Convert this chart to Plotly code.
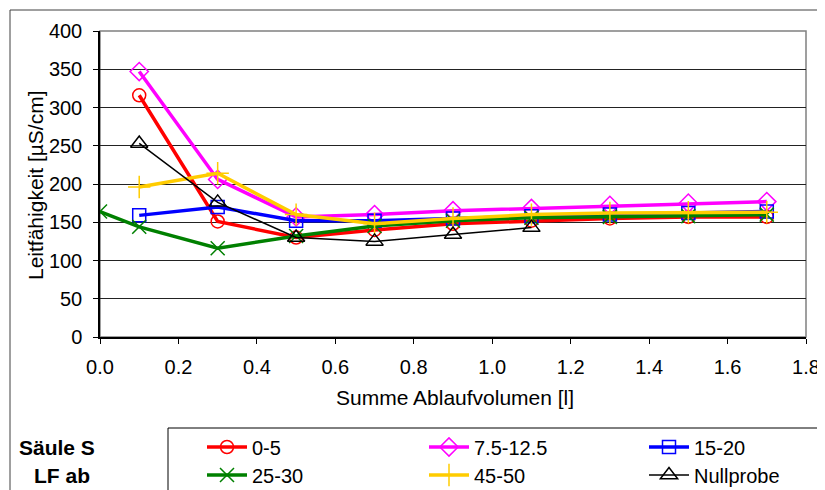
import plotly.graph_objects as go

x_vals = [0.1, 0.3, 0.5, 0.7, 0.9, 1.1, 1.3, 1.5, 1.7]
x_green = [0.0, 0.1, 0.3, 0.5, 0.7, 0.9, 1.1, 1.3, 1.5, 1.7]
x_null = [0.1, 0.3, 0.5, 0.7, 0.9, 1.1]

s_0_5 = [316, 151, 130, 140, 148, 152, 155, 157, 157]
s_7_12 = [347, 206, 157, 160, 165, 168, 172, 175, 177]
s_15_20 = [159, 170, 152, 152, 155, 158, 160, 162, 164]
s_25_30 = [164, 144, 116, 132, 145, 152, 156, 157, 158, 160]
s_45_50 = [196, 214, 160, 148, 155, 160, 162, 163, 163]
s_null = [253, 176, 130, 125, 134, 143]

names = ["0-5", "7.5-12.5", "15-20", "25-30", "45-50", "Nullprobe"]
x_ticks = [0.0, 0.2, 0.4, 0.6, 0.8, 1.0, 1.2, 1.4, 1.6, 1.8]
y_ticks = [0, 50, 100, 150, 200, 250, 300, 350, 400]

FONT = "Liberation Sans, Arial, sans-serif"
FS = 20

# the page body adds an 8px margin; work in reference pixels and subtract it
OFF = 8
W, H = 825 - OFF, 490 - OFF
L, R, T, B = 100 - OFF, 806 - OFF, 31 - OFF, 337 - OFF
pw, ph = R - L, B - T

def px(x):
    return (x - OFF - L) / pw

def py(y):
    return (B - (y - OFF)) / ph

series = [
    (x_vals, s_0_5, "#FF0000", "circle-open", 13, 3.5, 1.5),
    (x_vals, s_7_12, "#FF00FF", "diamond-open", 14, 3.5, 1.5),
    (x_vals, s_15_20, "#0000FF", "square-open", 13, 3.5, 1.5),
    (x_green, s_25_30, "#008000", "x-thin", 14, 3.5, 1.5),
    (x_vals, s_45_50, "#FFCC00", "cross-thin", 16, 3.5, 1.5),
    (x_null, s_null, "#000000", "triangle-up-open", 15, 1.5, 1.5),
]

legend_names = ["legend", "legend2", "legend3", "legend4", "legend5", "legend6"]
col_x = [202, 424, 644]
row_y = [447, 475]

fig = go.Figure()
for i, (xs, ys, col, sym, sz, lw, mlw) in enumerate(series):
    fig.add_trace(go.Scatter(
        x=xs, y=ys, name=names[i], mode="lines+markers",
        line=dict(color=col, width=lw),
        marker=dict(symbol=sym, size=sz, color=col, line=dict(color=col, width=mlw)),
        legend=legend_names[i], showlegend=True,
    ))

layout_legends = {}
for i, ln in enumerate(legend_names):
    c = i % 3
    r = i // 3
    layout_legends[ln] = dict(
        xref="container", yref="container",
        x=(col_x[c] - OFF) / W, y=1 - (row_y[r] - OFF) / H, xanchor="left", yanchor="middle",
        bgcolor="rgba(0,0,0,0)", borderwidth=0,
        font=dict(family=FONT, size=FS, color="black"),
        itemwidth=40, visible=True,
    )

shapes = [
    # outer chart frame
    dict(type="rect", xref="paper", yref="paper", x0=px(10), x1=px(822), y0=py(520), y1=py(10),
         line=dict(color="#404040", width=1), fillcolor="rgba(0,0,0,0)", layer="below"),
    # plot area border
    dict(type="rect", xref="paper", yref="paper", x0=0, x1=1, y0=0, y1=1,
         line=dict(color="#808080", width=1.5), layer="below"),
    # legend box
    dict(type="rect", xref="paper", yref="paper", x0=px(168), x1=px(822), y0=py(520), y1=py(428),
         line=dict(color="#000000", width=1), fillcolor="rgba(0,0,0,0)"),
]

annotations = [
    dict(text="Säule S", xref="paper", yref="paper", x=px(57), y=py(447), showarrow=False,
         font=dict(family=FONT, size=21, color="black", weight="bold"), xanchor="center", yanchor="middle"),
    dict(text="LF ab", xref="paper", yref="paper", x=px(62), y=py(475), showarrow=False,
         font=dict(family=FONT, size=21, color="black", weight="bold"), xanchor="center", yanchor="middle"),
    dict(text="Summe Ablaufvolumen [l]", xref="paper", yref="paper", x=px(455), y=py(397),
         showarrow=False, font=dict(family=FONT, size=21, color="black"),
         xanchor="center", yanchor="middle"),
    dict(text="Leitfähigkeit [µS/cm]", xref="paper", yref="paper", x=px(35), y=py(185),
         showarrow=False, textangle=-90, font=dict(family=FONT, size=21, color="black"),
         xanchor="center", yanchor="middle"),
]

fig.update_layout(
    width=W, height=H,
    margin=dict(l=L, r=W - R, t=T, b=H - B, autoexpand=False),
    paper_bgcolor="white", plot_bgcolor="white",
    font=dict(family=FONT, size=FS, color="black"),
    shapes=shapes, annotations=annotations, showlegend=True,
    **layout_legends,
)

fig.update_xaxes(
    range=[0, 1.8], tickvals=x_ticks, ticktext=[f"{v:.1f}" for v in x_ticks],
    showgrid=False, zeroline=False, showline=True, linecolor="black", linewidth=1.5,
    ticks="outside", ticklen=5, tickcolor="black", tickwidth=1,
    tickfont=dict(family=FONT, size=FS, color="black"), ticklabelstandoff=6,
    automargin=False, ticklabeloverflow="allow",
)
fig.update_yaxes(
    range=[0, 400], tickvals=y_ticks,
    showgrid=True, gridcolor="#222222", gridwidth=1, zeroline=False,
    showline=True, linecolor="black", linewidth=1.5,
    ticks="outside", ticklen=5, tickcolor="black", tickwidth=1,
    tickfont=dict(family=FONT, size=FS, color="black"), ticklabelstandoff=7,
    automargin=False,
)

fig.write_html("out.html")
